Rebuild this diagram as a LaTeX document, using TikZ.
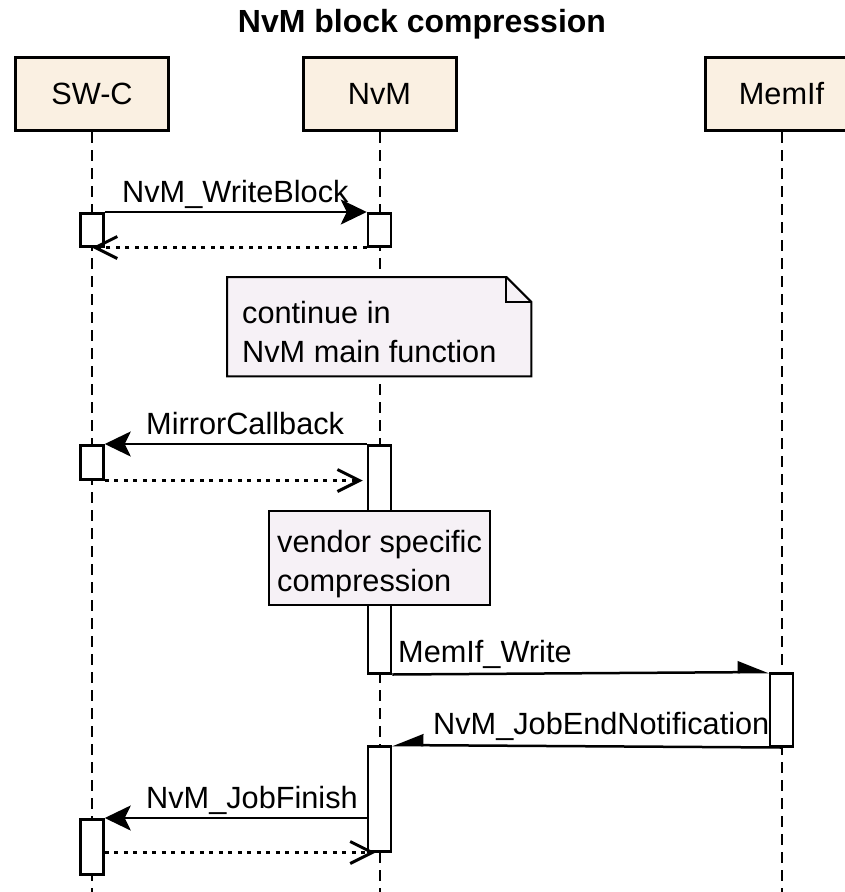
\documentclass[tikz,border=0pt]{standalone}
\usepackage{fontspec}
\setmainfont{Liberation Sans}
\usetikzlibrary{arrows.meta}
\definecolor{partfill}{RGB}{250,240,226}
\definecolor{notefill}{RGB}{246,241,246}
\newcommand{\dgmfont}{\fontsize{30.7}{39}\selectfont}
\begin{document}
\begin{tikzpicture}[x=1pt,y=-1pt,
  part/.style={draw, line width=3pt, fill=partfill, minimum width=153pt, minimum height=73pt, inner sep=0pt, font=\dgmfont},
  lifeline/.style={line width=2pt, dash pattern=on 11pt off 7pt},
  actbox/.style={draw, line width=2.5pt, fill=white, minimum width=23pt, inner sep=0pt, anchor=north},
  msg/.style={line width=2.5pt, -{Stealth[length=26pt, width=25pt, inset=6pt]}},
  ret/.style={line width=3pt, dash pattern=on 4pt off 5.5pt, -{Straight Barb[length=22pt, width=22pt, line width=3pt]}},
  half/.style={line width=2.5pt, -{Triangle[harpoon, length=28pt, width=22pt]}},
  halfswap/.style={line width=2.5pt, -{Triangle[harpoon, swap, length=28pt, width=22pt]}},
  lbl/.style={font=\dgmfont, inner sep=0pt, anchor=base west},
  notetext/.style={font=\dgmfont, inner sep=0pt, anchor=north west, align=left},
  noteline/.style={draw, line width=2pt, fill=notefill}
]
\useasboundingbox (0,0) rectangle (845,892);
\clip (0,0) rectangle (845,892);

% title
\node[font=\fontsize{32}{38}\selectfont\bfseries, inner sep=0pt, anchor=base] (title) at (422,32) {NvM block compression};

% participants
\node[part] (swc) at (92,94) {SW-C};
\node[part] (nvm) at (379.5,94) {NvM};
\node[part] (memif) at (781.5,94) {MemIf};

% lifelines
\coordinate (swcEnd) at (92,892);
\coordinate (nvmEnd) at (379.5,892);
\coordinate (memifEnd) at (781.5,892);
\draw[lifeline] (swc.south) -- (swcEnd);
\draw[lifeline] (nvm.south) -- (nvmEnd);
\draw[lifeline] (memif.south) -- (memifEnd);

% activations
\node[actbox, minimum height=33pt] (s1) at (92,212) {};
\node[actbox, minimum height=33pt] (v1) at (379.5,212) {};
\node[actbox, minimum height=34pt] (s2) at (92,444) {};
\node[actbox, minimum height=228pt] (v2) at (379.5,444) {};
\node[actbox, minimum height=73pt] (m1) at (781.5,672) {};
\node[actbox, minimum height=105pt] (v3) at (379.5,745) {};
\node[actbox, minimum height=55pt] (s3) at (92,818) {};

% messages
\draw[msg] (s1.north east) -- (v1.north west);
\node[lbl] (l1) at (122,202) {NvM\_WriteBlock};
\draw[ret] (v1.south west) -- (s1.south);

\draw[msg] (v2.north west) -- (s2.north east);
\node[lbl] (l2) at (146,434) {MirrorCallback};
\draw[ret] (s2.south east) -- ([xshift=-4pt]v2.west |- s2.south);

\draw[half] (v2.south east) -- (m1.north west);
\node[lbl] (l3) at (398,662) {MemIf\_Write};

\draw[halfswap] (m1.south) -- (v3.north east);
\node[lbl] (l4) at (433,734) {NvM\_JobEndNotification};

\draw[msg] (v3.west |- s3.north) -- (s3.north east);
\node[lbl] (l5) at (146,808) {NvM\_JobFinish};
\draw[ret] (s3.east |- v3.south) -- ([xshift=-4pt]v3.south);

% note 1 (folded corner)
\node[minimum width=304pt, minimum height=99pt, inner sep=0pt, anchor=north west] (note1) at (227,277) {};
\path[noteline] (note1.south west) -- (note1.north west) -- ([xshift=-25pt]note1.north east)
  -- ([yshift=-25pt]note1.north east) -- (note1.south east) -- cycle;
\draw[line width=2pt] ([xshift=-25pt]note1.north east) -- ([xshift=-25pt,yshift=-25pt]note1.north east) -- ([yshift=-25pt]note1.north east);
\node[notetext] (note1txt) at (242,301) {continue in\\NvM main function};

% note 2
\node[noteline, minimum width=221pt, minimum height=94pt, inner sep=0pt, anchor=north west] (note2) at (268,510) {};
\node[notetext] (note2txt) at (277,530) {vendor specific\\compression};
\end{tikzpicture}
\end{document}
